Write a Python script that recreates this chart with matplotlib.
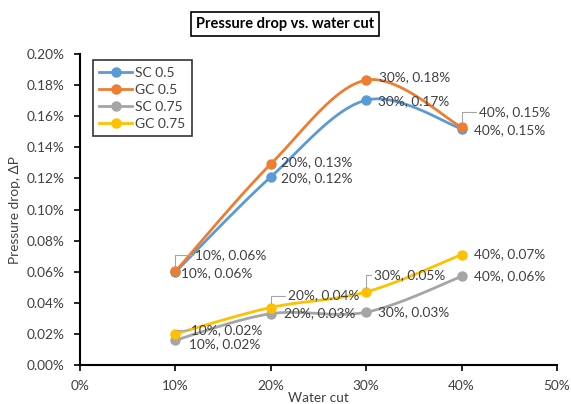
import numpy as np
import matplotlib
matplotlib.use("Agg")
import matplotlib.pyplot as plt
from matplotlib.ticker import FuncFormatter

plt.rcParams['font.family'] = ['Lato', 'DejaVu Sans']

water_cut = [10, 20, 30, 40]
sc_05 = [0.0598, 0.121, 0.1704, 0.152]
gc_05 = [0.0602, 0.1293, 0.1833, 0.153]
sc_075 = [0.016, 0.033, 0.034, 0.057]
gc_075 = [0.020, 0.037, 0.047, 0.071]

series_names = ['SC 0.5', 'GC 0.5', 'SC 0.75', 'GC 0.75']
series_vals = [sc_05, gc_05, sc_075, gc_075]
colors = ['#5B9BD5', '#ED7D31', '#A5A5A5', '#FFC000']

# label offsets in pixels (dx, dy) from each point, plus whether a leader line is drawn
label_offsets = [
    [(6, -1, False), (10, -1, False), (12, -1, False), (12, -1, False)],
    [(20, 16, True), (10, 2, False), (13, 3, False), (17, 15, True)],
    [(14, -4, False), (13, 1, False), (12, 0, False), (12, 0, False)],
    [(16, 4, True), (17, 12, True), (8, 17, True), (12, 0, False)],
]

text_col = '#404040'


def smooth(x, y, xr=50.0, yr=0.2, n=40):
    # Excel-like smoothed line: cubic bezier through points (catmull-rom style)
    p = np.column_stack([np.array(x) / xr, np.array(y) / yr])
    out = [p[0]]
    for i in range(len(p) - 1):
        p0 = p[i - 1] if i > 0 else p[i]
        p3 = p[i + 2] if i + 2 < len(p) else p[i + 1]
        c1 = p[i] + (p[i + 1] - p0) / 6
        c2 = p[i + 1] - (p3 - p[i]) / 6
        t = np.linspace(0, 1, n)[1:, None]
        seg = ((1 - t) ** 3) * p[i] + 3 * ((1 - t) ** 2) * t * c1 + 3 * (1 - t) * t ** 2 * c2 + t ** 3 * p[i + 1]
        out.extend(seg)
    out = np.array(out)
    return out[:, 0] * xr, out[:, 1] * yr


fig = plt.figure(figsize=(5.71, 4.04), dpi=100)
ax = fig.add_axes([0.140, 0.0965, 0.8355, 0.7695])

for name, vals, col in zip(series_names, series_vals, colors):
    sx, sy = smooth(water_cut, vals)
    ax.plot(sx, sy, color=col, lw=2, solid_capstyle='round')
    ax.plot(water_cut, vals, 'o', color=col, ms=6.5)
    ax.plot([], [], '-o', color=col, lw=2, ms=6.5, label=name)

for vals, offs in zip(series_vals, label_offsets):
    for xv, yv, (dx, dy, lead) in zip(water_cut, vals, offs):
        txt = f"{xv}%, {yv:.2f}%"
        if lead:
            ax.annotate(txt, (xv, yv), xytext=(dx, dy), textcoords='offset pixels',
                        fontsize=9.8, color=text_col, va='center', ha='left',
                        arrowprops=dict(arrowstyle='-', color='#A5A5A5', lw=0.8,
                                        shrinkA=0, shrinkB=3,
                                        connectionstyle='angle,angleA=0,angleB=90,rad=0'))
        else:
            ax.annotate(txt, (xv, yv), xytext=(dx, dy), textcoords='offset pixels',
                        fontsize=9.8, color=text_col, va='center', ha='left')

ax.set_xlim(0, 50)
ax.set_ylim(0, 0.2)
ax.set_xticks(np.arange(0, 51, 10))
ax.set_yticks(np.arange(0, 0.201, 0.02))
ax.xaxis.set_major_formatter(FuncFormatter(lambda v, _: f"{v:.0f}%"))
ax.yaxis.set_major_formatter(FuncFormatter(lambda v, _: f"{v:.2f}%"))
ax.tick_params(axis='both', direction='out', length=4, width=1.2, colors='black',
               labelcolor=text_col, labelsize=9.8, pad=7)
for s in ['top', 'right']:
    ax.spines[s].set_visible(False)
for s in ['left', 'bottom']:
    ax.spines[s].set_linewidth(1.5)

ax.set_xlabel('Water cut', fontsize=9.8, color=text_col, labelpad=0)
ax.set_ylabel('Pressure drop, ΔP', fontsize=9.8, color=text_col, labelpad=4)

leg = ax.legend(loc='upper left', bbox_to_anchor=(0.027, 0.98), frameon=True, fancybox=False,
                edgecolor='black', fontsize=10, handlelength=2.4, handletextpad=0.2,
                labelspacing=0.36, borderpad=0.45, borderaxespad=0)
leg.get_frame().set_linewidth(1.2)
for t in leg.get_texts():
    t.set_color(text_col)

fig.text(0.4995, 0.94, 'Pressure drop vs. water cut', ha='center', va='center',
         fontsize=10.5, fontweight='bold', color='black',
         bbox=dict(boxstyle='square,pad=0.35', fc='white', ec='black', lw=1.2))

fig.savefig('out.png', dpi=100)
